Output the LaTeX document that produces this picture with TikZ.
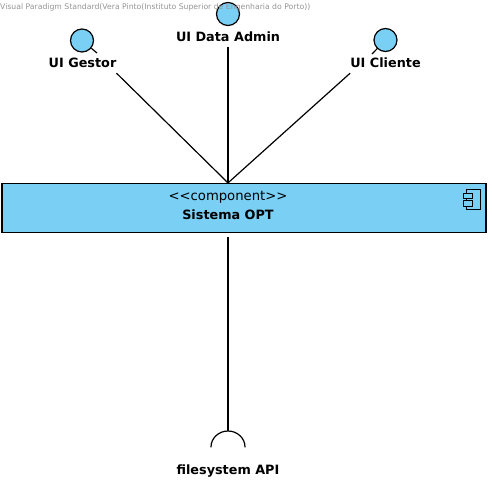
\documentclass[tikz,border=0pt]{standalone}
\usepackage{fontspec}
\setmainfont{DejaVu Sans}
\definecolor{umlblue}{HTML}{7ACFF5}
\tikzset{
  px/.style={x=1pt,y=-1pt},
  iface/.style={circle,draw=black,fill=umlblue,line width=1.2pt,minimum size=23pt,inner sep=0pt},
  lbl/.style={font=\fontsize{12.8}{15}\selectfont\bfseries,text=black,inner sep=0pt,minimum height=20pt},
  conn/.style={draw=black,line width=1.2pt},
  comp/.style={draw=black,fill=umlblue,line width=1.2pt,rectangle,minimum width=484pt,minimum height=49pt,inner sep=0pt,align=center},
  iconpart/.style={draw=black,fill=umlblue,line width=1pt}
}
\begin{document}
\begin{tikzpicture}[px]
\useasboundingbox (0,0) rectangle (492,485);
\node[comp] (sys) at (244,208) {};
\node[font=\fontsize{13.2}{15}\selectfont,inner sep=0pt] (stereo) at (228,197) {<{}<component>{}>};
\node[lbl] (sysname) at (228,214.5) {Sistema OPT};
\draw[iconpart] (466,189) rectangle (480,209);
\draw[iconpart] (463.5,193.5) rectangle (472.5,198.7);
\draw[iconpart] (463.5,200.7) rectangle (472.5,206);
\node[iface] (gestor) at (82,40.5) {};
\node[iface] (admin) at (228,14) {};
\node[iface] (cliente) at (385.5,40) {};
\node[lbl,minimum width=67pt] (lgestor) at (82.5,63) {UI Gestor};
\node[lbl,minimum width=106pt] (ladmin) at (228,37) {UI Data Admin};
\node[lbl,minimum width=70pt] (lcliente) at (385.5,63) {UI Cliente};
\node[lbl] (lapi) at (228,471) {filesystem API};
\coordinate (gtail) at (97,53);
\coordinate (ctail) at (372,54);
\coordinate (apitop) at (228,431);
\draw[conn] (gestor) -- (gtail);
\draw[conn] (cliente) -- (ctail);
\draw[conn] (lgestor.south east) -- (sys.north -| admin);
\draw[conn] (ladmin.south) -- (sys.north -| admin);
\draw[conn] (lcliente.south west) -- (sys.north -| admin);
\draw[conn,shorten <=3.5pt] (sys.south -| admin) -- (apitop);
\draw[conn,line cap=round] (211,447) arc[start angle=180,end angle=0,x radius=17,y radius=-16];
\node[font=\fontsize{7.7}{9}\selectfont,text=black!42,anchor=west,inner sep=0pt] (mark) at (0,7) {Visual Paradigm Standard(Vera Pinto(Instituto Superior de Engenharia do Porto))};
\end{tikzpicture}
\end{document}
